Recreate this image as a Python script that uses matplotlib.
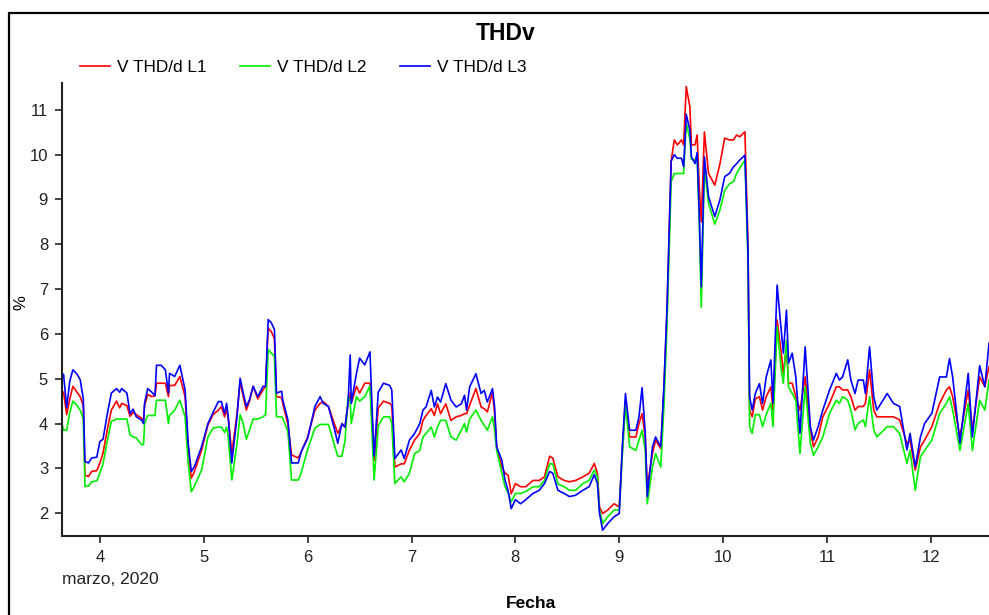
import matplotlib
matplotlib.use("Agg")
import matplotlib.pyplot as plt
from matplotlib.patches import Rectangle

plt.rcParams['font.family'] = ['Liberation Sans', 'DejaVu Sans']

# time in days of March 2020
t = [3.635, 3.65, 3.68, 3.71, 3.74, 3.78, 3.81, 3.84, 3.856, 3.89, 3.92, 3.97,
     4.00, 4.03, 4.07, 4.11, 4.16, 4.19, 4.21, 4.26, 4.29, 4.32, 4.35, 4.40,
     4.42, 4.43, 4.46, 4.50, 4.53, 4.545, 4.59, 4.63, 4.66, 4.67, 4.72, 4.77,
     4.82, 4.85, 4.88, 4.91, 4.98, 5.04, 5.09, 5.14, 5.17, 5.20, 5.22, 5.235,
     5.27, 5.32, 5.35, 5.38, 5.41, 5.44, 5.475, 5.52, 5.57, 5.595, 5.62, 5.65,
     5.68, 5.70, 5.75, 5.76, 5.81, 5.845, 5.91, 5.94, 6.00, 6.07, 6.12, 6.15,
     6.20, 6.26, 6.29, 6.33, 6.36, 6.39, 6.41, 6.42, 6.47, 6.50, 6.55, 6.60,
     6.63, 6.64, 6.68, 6.73, 6.79, 6.81, 6.84, 6.90, 6.93, 6.98, 7.03, 7.08,
     7.11, 7.14, 7.19, 7.22, 7.25, 7.28, 7.33, 7.38, 7.43, 7.48, 7.51, 7.53,
     7.56, 7.62, 7.67, 7.70, 7.73, 7.78, 7.80, 7.82, 7.87, 7.90, 7.93, 7.96,
     8.00, 8.05, 8.10, 8.17, 8.23, 8.28, 8.33, 8.36, 8.41, 8.47, 8.52, 8.58,
     8.65, 8.71, 8.76, 8.79, 8.81, 8.84, 8.89, 8.95, 9.00, 9.03, 9.06, 9.10,
     9.16, 9.19, 9.22, 9.25, 9.27, 9.32, 9.35, 9.40, 9.43, 9.46, 9.50, 9.53,
     9.56, 9.60, 9.62, 9.645, 9.68, 9.695, 9.73, 9.75, 9.77, 9.79, 9.82, 9.86,
     9.92, 9.97, 10.015, 10.06, 10.10, 10.13, 10.16, 10.21, 10.24, 10.255, 10.28, 10.31,
     10.35, 10.38, 10.415, 10.46, 10.48, 10.52, 10.56, 10.58, 10.61, 10.63, 10.665, 10.70,
     10.74, 10.79, 10.84, 10.87, 10.915, 10.96, 11.025, 11.09, 11.12, 11.15, 11.20, 11.23,
     11.27, 11.30, 11.35, 11.37, 11.41, 11.45, 11.48, 11.58, 11.64, 11.70, 11.77, 11.80,
     11.85, 11.90, 11.94, 12.01, 12.085, 12.15, 12.18, 12.21, 12.28, 12.36, 12.40, 12.47,
     12.52, 12.56]

l1 = [4.70, 4.70, 4.20, 4.55, 4.83, 4.70, 4.60, 4.40, 2.85, 2.82, 2.93, 2.95,
      3.12, 3.34, 3.85, 4.30, 4.50, 4.35, 4.45, 4.40, 4.16, 4.25, 4.20, 4.12,
      4.05, 4.40, 4.65, 4.60, 4.62, 4.90, 4.90, 4.90, 4.60, 4.85, 4.85, 5.05,
      4.60, 3.40, 2.78, 2.93, 3.41, 3.97, 4.20, 4.30, 4.38, 4.15, 4.30, 4.15,
      3.34, 4.22, 4.94, 4.60, 4.30, 4.50, 4.83, 4.55, 4.75, 4.83, 6.13, 6.05,
      5.90, 4.60, 4.58, 4.45, 3.98, 3.30, 3.23, 3.38, 3.70, 4.30, 4.45, 4.49,
      4.38, 3.98, 3.78, 3.98, 3.92, 4.45, 4.68, 4.45, 4.83, 4.68, 4.90, 4.90,
      3.70, 3.18, 4.35, 4.50, 4.45, 4.40, 3.03, 3.10, 3.10, 3.41, 3.63, 3.78,
      4.07, 4.18, 4.33, 4.18, 4.44, 4.22, 4.44, 4.07, 4.15, 4.18, 4.22, 4.22,
      4.41, 4.78, 4.37, 4.33, 4.26, 4.70, 4.22, 3.48, 3.03, 2.89, 2.85, 2.43,
      2.66, 2.59, 2.59, 2.73, 2.73, 2.81, 3.27, 3.23, 2.81, 2.73, 2.70, 2.73,
      2.81, 2.89, 3.11, 2.89, 2.14, 1.99, 2.07, 2.21, 2.14, 3.40, 4.52, 3.70,
      3.70, 4.00, 4.22, 3.70, 2.59, 3.33, 3.63, 3.44, 4.78, 6.50, 9.86, 10.33,
      10.22, 10.33, 10.22, 11.52, 11.07, 10.22, 10.22, 10.44, 9.30, 8.50, 10.51, 9.58,
      9.32, 9.80, 10.37, 10.33, 10.33, 10.44, 10.40, 10.51, 8.00, 4.30, 4.15, 4.55,
      4.60, 4.30, 4.60, 4.82, 4.30, 6.31, 5.57, 5.12, 5.71, 4.90, 4.90, 4.60,
      4.30, 5.04, 3.86, 3.48, 3.70, 4.15, 4.45, 4.82, 4.82, 4.75, 4.75, 4.60,
      4.30, 4.38, 4.38, 4.45, 5.20, 4.30, 4.15, 4.15, 4.15, 4.08, 3.55, 3.63,
      2.96, 3.48, 3.63, 3.93, 4.45, 4.75, 4.82, 4.60, 3.70, 4.75, 3.86, 5.04,
      4.82, 5.27]

l2 = [4.00, 3.85, 3.85, 4.25, 4.50, 4.40, 4.30, 4.10, 2.60, 2.60, 2.70, 2.72,
      2.90, 3.10, 3.60, 4.05, 4.10, 4.10, 4.10, 4.10, 3.75, 3.70, 3.68, 3.53,
      3.53, 4.00, 4.18, 4.18, 4.18, 4.52, 4.52, 4.52, 4.00, 4.18, 4.30, 4.52,
      4.15, 3.12, 2.48, 2.60, 2.97, 3.70, 3.90, 3.92, 3.92, 3.80, 3.92, 3.70,
      2.74, 3.55, 4.20, 4.00, 3.65, 3.85, 4.10, 4.10, 4.15, 4.20, 5.65, 5.57,
      5.50, 4.15, 4.15, 4.12, 3.82, 2.74, 2.74, 2.92, 3.42, 3.90, 3.98, 3.98,
      3.98, 3.50, 3.27, 3.27, 3.62, 4.60, 4.50, 4.00, 4.60, 4.50, 4.60, 4.84,
      3.30, 2.74, 3.95, 4.15, 4.15, 4.00, 2.66, 2.81, 2.70, 2.89, 3.33, 3.40,
      3.70, 3.78, 3.92, 3.70, 3.92, 4.07, 4.07, 3.70, 3.63, 3.85, 4.00, 3.81,
      4.10, 4.30, 4.07, 3.96, 3.85, 4.15, 3.85, 3.40, 2.89, 2.59, 2.45, 2.25,
      2.44, 2.44, 2.48, 2.59, 2.59, 2.73, 3.10, 3.10, 2.65, 2.59, 2.51, 2.51,
      2.66, 2.73, 2.96, 2.81, 2.07, 1.77, 1.92, 2.07, 2.07, 3.30, 4.44, 3.48,
      3.40, 3.63, 3.85, 3.40, 2.21, 3.03, 3.33, 3.03, 4.37, 6.20, 9.40, 9.58,
      9.58, 9.58, 9.58, 10.70, 10.35, 9.90, 9.88, 9.95, 8.55, 6.60, 9.70, 8.91,
      8.45, 8.77, 9.20, 9.35, 9.40, 9.58, 9.70, 9.88, 7.60, 3.93, 3.78, 4.20,
      4.20, 3.93, 4.20, 4.45, 3.93, 6.16, 5.20, 4.90, 5.86, 4.82, 4.67, 4.52,
      3.33, 4.82, 3.56, 3.29, 3.48, 3.70, 4.23, 4.52, 4.45, 4.60, 4.52, 4.30,
      3.86, 4.00, 4.08, 3.93, 4.60, 3.86, 3.70, 3.93, 3.93, 3.78, 3.11, 3.40,
      2.51, 3.26, 3.40, 3.63, 4.23, 4.45, 4.60, 4.30, 3.40, 4.45, 3.40, 4.52,
      4.30, 4.97]

l3 = [5.05, 5.10, 4.35, 4.95, 5.20, 5.10, 4.98, 4.55, 3.15, 3.12, 3.23, 3.25,
      3.60, 3.65, 4.20, 4.68, 4.78, 4.70, 4.78, 4.68, 4.22, 4.32, 4.15, 4.08,
      4.00, 4.45, 4.78, 4.70, 4.62, 5.30, 5.30, 5.20, 4.68, 5.12, 5.05, 5.30,
      4.75, 3.56, 2.93, 3.04, 3.49, 4.00, 4.25, 4.49, 4.49, 4.22, 4.45, 4.15,
      3.12, 4.15, 5.01, 4.68, 4.38, 4.53, 4.83, 4.60, 4.83, 4.83, 6.32, 6.25,
      6.10, 4.68, 4.72, 4.53, 4.08, 3.12, 3.12, 3.38, 3.67, 4.38, 4.60, 4.45,
      4.38, 3.86, 3.56, 4.00, 3.92, 4.49, 5.53, 4.45, 5.12, 5.46, 5.31, 5.60,
      3.78, 3.27, 4.70, 4.90, 4.85, 4.75, 3.22, 3.41, 3.22, 3.63, 3.78, 4.00,
      4.30, 4.37, 4.74, 4.37, 4.59, 4.48, 4.89, 4.52, 4.37, 4.44, 4.63, 4.30,
      4.82, 5.11, 4.67, 4.74, 4.48, 4.78, 4.37, 3.48, 3.18, 2.74, 2.50, 2.10,
      2.30, 2.21, 2.30, 2.44, 2.51, 2.66, 2.93, 2.89, 2.51, 2.44, 2.37, 2.40,
      2.51, 2.59, 2.86, 2.66, 2.00, 1.62, 1.77, 1.92, 1.99, 3.50, 4.67, 3.85,
      3.85, 4.15, 4.80, 3.80, 2.37, 3.48, 3.70, 3.48, 4.82, 6.60, 9.86, 10.00,
      9.92, 9.92, 9.73, 10.90, 10.55, 9.95, 9.80, 10.05, 8.70, 7.05, 9.95, 9.06,
      8.62, 9.00, 9.51, 9.58, 9.73, 9.80, 9.88, 9.99, 7.80, 4.60, 4.30, 4.67,
      4.89, 4.45, 5.04, 5.42, 4.45, 7.09, 6.09, 5.57, 6.53, 5.35, 5.57, 5.04,
      3.78, 5.71, 3.93, 3.63, 3.93, 4.30, 4.75, 5.12, 4.97, 5.04, 5.42, 4.97,
      4.67, 4.97, 4.97, 4.67, 5.71, 4.60, 4.30, 4.67, 4.45, 4.38, 3.41, 3.78,
      3.03, 3.70, 4.00, 4.23, 5.04, 5.04, 5.45, 5.04, 3.56, 5.12, 3.70, 5.29,
      4.82, 5.79]

labels = ["V THD/d L1", "V THD/d L2", "V THD/d L3"]
colors = ["#ff0000", "#00ee00", "#0000ff"]
xticks = [4, 5, 6, 7, 8, 9, 10, 11, 12]
yticks = [2, 3, 4, 5, 6, 7, 8, 9, 10, 11]

W, H = 989, 615
fig = plt.figure(figsize=(W / 100, H / 100), dpi=100)

# outer frame
fig.patches.append(Rectangle((9 / W, -0.1), 1.2, 1 - 13 / H + 0.1,
                             transform=fig.transFigure, fill=False,
                             edgecolor="black", linewidth=1.6))

ax = fig.add_axes([62 / W, 1 - 536 / H, 1 - 62 / W, (536 - 83) / H])
lines = []
for y, lab, c in zip([l1, l2, l3], labels, colors):
    ln, = ax.plot(t, y, color=c, linewidth=1.2, label=lab)
    lines.append(ln)

ax.set_xlim(3.635, 12.56)
ax.set_ylim(1.49, 11.6)
ax.set_xticks(xticks)
ax.set_xticklabels([str(v) for v in xticks])
ax.set_yticks(yticks)
ax.set_yticklabels([str(v) for v in yticks])
ax.spines["top"].set_visible(False)
ax.spines["right"].set_visible(False)
for s in ("left", "bottom"):
    ax.spines[s].set_linewidth(1.5)
    ax.spines[s].set_color("#222222")
ax.tick_params(axis="both", direction="out", length=5, width=1.2,
               labelsize=12, colors="#222222", pad=5)
ax.set_facecolor("white")

fig.text(506 / W, 1 - 33.5 / H, "THDv", ha="center", va="center",
         fontsize=16.5, fontweight="bold")
fig.text(21 / W, 1 - 303 / H, "%", rotation=90, ha="center", va="center",
         fontsize=12)
fig.text(531 / W, 1 - 603 / H, "Fecha", ha="center", va="center",
         fontsize=12.5, fontweight="bold")
fig.text(62 / W, 1 - 580 / H, "marzo, 2020", ha="left", va="center",
         fontsize=12.5, color="#222222")

fig.legend(handles=lines, labels=labels, loc="center left",
           bbox_to_anchor=(80 / W, 1 - 67.5 / H), ncol=3, frameon=False,
           fontsize=12.4, handlelength=1.75, handletextpad=0.4,
           columnspacing=1.95, borderaxespad=0, borderpad=0)

fig.savefig("out.png", dpi=100)
